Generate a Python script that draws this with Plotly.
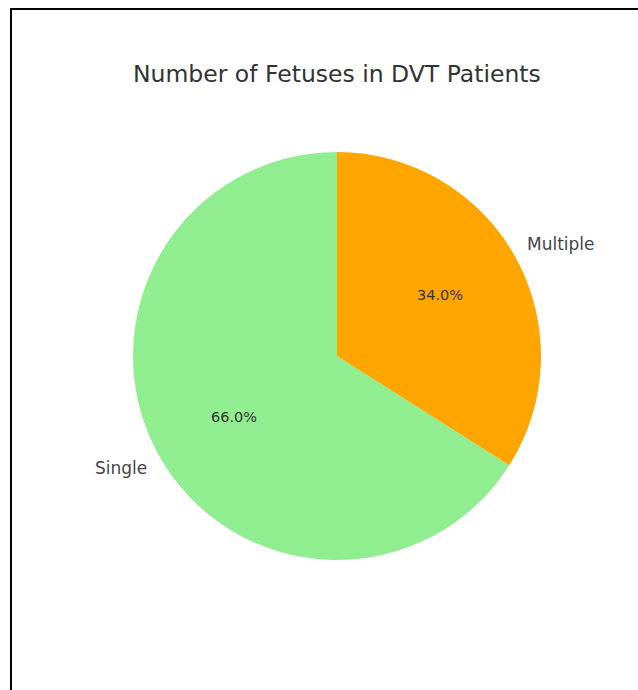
import math
import plotly.graph_objects as go

labels = ["Single", "Multiple"]
values = [66.0, 34.0]
colors = ["#90EE90", "#FFA500"]
title_text = "Number of Fetuses in DVT Patients"

W, H = 638, 690
cx, cy = 337, 356          # pie centre in pixels (from top-left)
r = 204                     # pie radius in pixels
rx, ry = 195, 211           # label placement radii

total = sum(values)
# Plotly places the first slice clockwise from `rotation`; shift so the first
# slice runs counter-clockwise from 12 o'clock (matplotlib startangle=90).
first_span = 360.0 * values[0] / total

fig = go.Figure()
fig.add_trace(go.Pie(
    labels=labels, values=values, sort=False, direction="counterclockwise",
    rotation=-first_span, marker=dict(colors=colors, line=dict(width=0)),
    textinfo="none", hoverinfo="label+percent", showlegend=False,
    domain=dict(x=[(cx - r) / W, (cx + r) / W], y=[(H - cy - r) / H, (H - cy + r) / H]),
))

annotations = []
start = 90.0
for lab, v in zip(labels, values):
    span = 360.0 * v / total
    mid = math.radians(start + span / 2)
    start += span
    c, s = math.cos(mid), math.sin(mid)
    px = cx + 0.6 * rx * c
    py = cy - 0.6 * ry * s
    annotations.append(dict(
        x=px / W, y=1 - py / H, xref="paper", yref="paper", showarrow=False,
        text=f"{100 * v / total:.1f}%", xanchor="center", yanchor="middle",
        font=dict(family="DejaVu Sans", size=14.5, color="#333333")))
    lx = cx + 1.1 * rx * c
    ly = cy - 1.1 * ry * s
    annotations.append(dict(
        x=lx / W, y=1 - ly / H, xref="paper", yref="paper", showarrow=False,
        text=lab, xanchor="left" if c > 0 else "right", yanchor="middle",
        font=dict(family="DejaVu Sans", size=17, color="#444444")))

annotations.append(dict(
    x=cx / W, y=1 - 74 / H, xref="paper", yref="paper", showarrow=False,
    text=title_text, xanchor="center", yanchor="middle",
    font=dict(family="DejaVu Sans", size=23.5, color="#333333")))

fig.update_layout(
    width=W, height=H, margin=dict(l=0, r=0, t=0, b=0),
    paper_bgcolor="white", plot_bgcolor="white",
    annotations=annotations,
    shapes=[dict(type="rect", xref="paper", yref="paper",
                 x0=11 / W, x1=1.1, y0=-0.1, y1=1 - 9 / H,
                 line=dict(color="black", width=2), fillcolor="rgba(0,0,0,0)")],
)

fig.write_html("out.html")
